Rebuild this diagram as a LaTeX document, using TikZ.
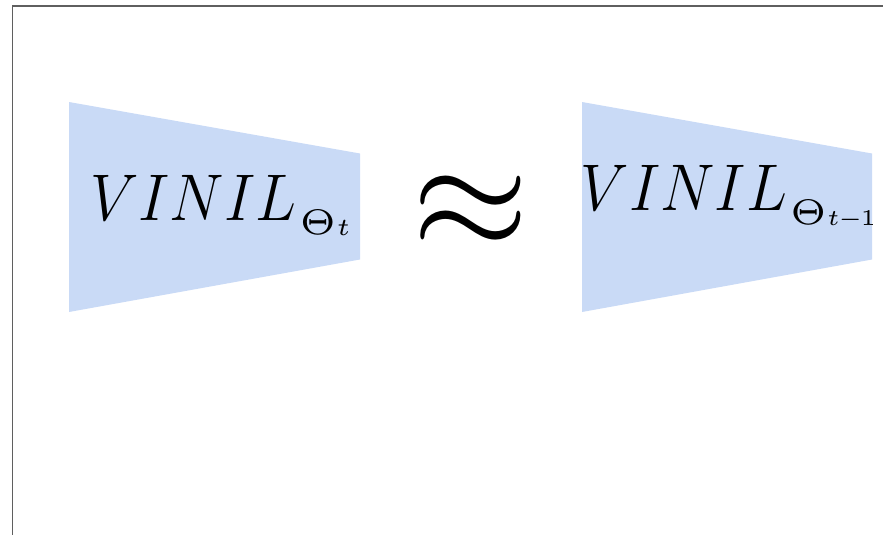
\RequirePackage{fix-cm}
\documentclass[tikz,border=0pt]{standalone}
\usepackage{graphicx}
% small-design cuts for subscripts, large-design cut for the main letters
\DeclareFontShape{OT1}{cmr}{m}{n}{<-40> cmr5 <40-> cmr12}{}
\DeclareFontShape{OML}{cmm}{m}{it}{<-40> cmmi5 <40-> cmmi12}{\skewchar\font'177}
\DeclareFontShape{OMS}{cmsy}{m}{n}{<-40> cmsy5 <40-> cmsy10}{\skewchar\font'60}
\definecolor{netblue}{RGB}{201,218,246}
\definecolor{framegray}{RGB}{95,95,95}
% network name with its parameter subscript
\newcommand\netname[2]{%
  \scalebox{0.93}[1]{\fontsize{66}{72}\selectfont$VINIL$}%
  \kern3pt\raisebox{-14pt}{\fontsize{35.5}{38}\selectfont$\Theta$}%
  \kern0.5pt\raisebox{-15.5pt}{\fontsize{#1}{27}\selectfont$#2$}}
\tikzset{
  netshape/.style={fill=netblue, draw=none},
  netlabel/.style={inner sep=0pt, anchor=base west},
  relsym/.style={inner sep=0pt, font=\fontsize{150}{160}\selectfont},
}
\begin{document}
\begin{tikzpicture}[x=1pt, y=-1pt]
\useasboundingbox (0,0) rectangle (883,535);
% frame
\draw[framegray, line width=1.8pt] (12.5,535) -- (12.5,6) -- (883,6);
% the two networks, tapered towards the right
\fill[netshape] (69,102) -- (360,153.5) -- (360,259.5) -- (69,312) -- cycle;
\fill[netshape] (582,102) -- (872,153.5) -- (872,259.5) -- (582,312) -- cycle;
\node[netlabel] (cur) at (90,220) {\netname{24.5}{t}};
\node[netlabel] (prev) at (580.5,210) {\netname{22.5}{t\mkern-1mu{-}\mkern-1mu1}};
\node[relsym] (approx) at (471,212) {$\approx$};
\end{tikzpicture}
\end{document}
